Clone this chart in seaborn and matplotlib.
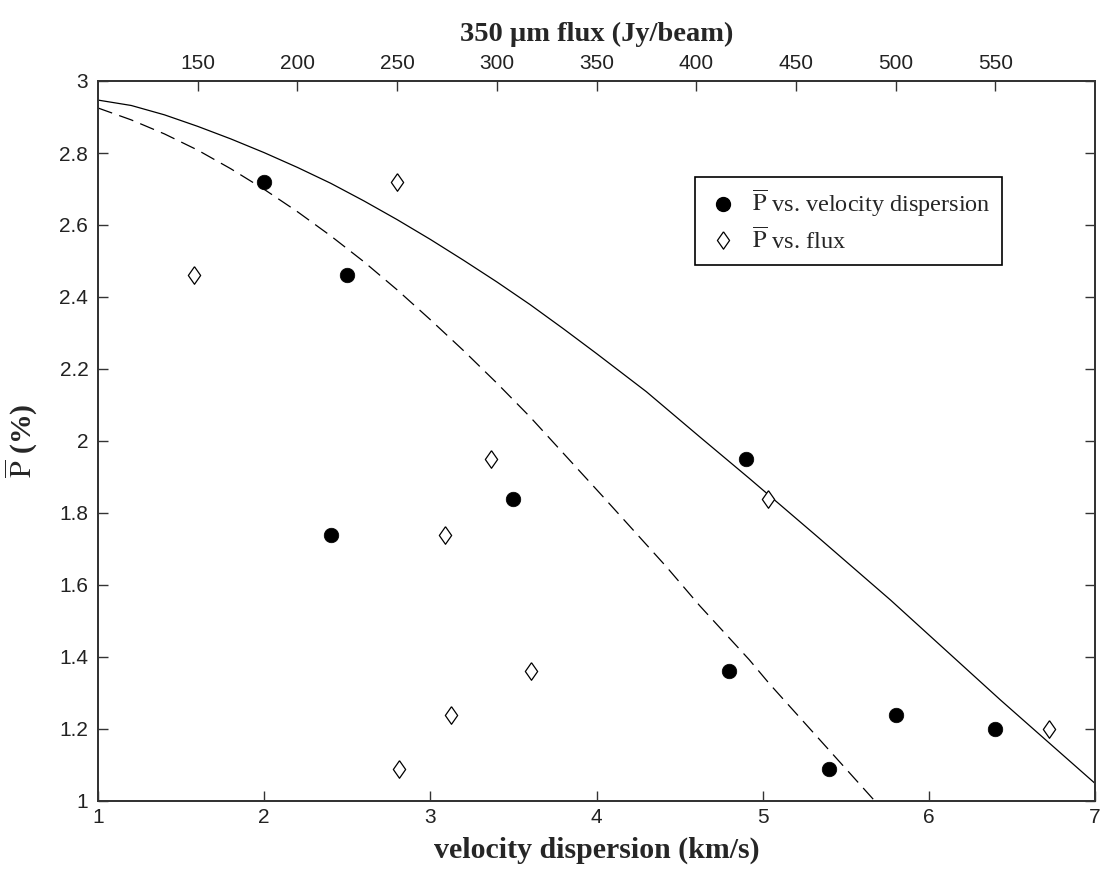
import numpy as np
import pandas as pd
import matplotlib
matplotlib.use("Agg")
import matplotlib.pyplot as plt
import seaborn as sns
from matplotlib.lines import Line2D

# ---- data ----
vel_disp = [2.0, 2.5, 2.4, 3.5, 4.9, 4.8, 5.4, 5.8, 6.4]
p_vel = [2.72, 2.46, 1.74, 1.84, 1.95, 1.36, 1.09, 1.24, 1.20]

flux = [250, 148, 274, 436, 297, 317, 251, 277, 577]
p_flux = [2.72, 2.46, 1.74, 1.84, 1.95, 1.36, 1.09, 1.24, 1.20]

solid_x = [1.0, 1.2, 1.4, 1.6, 1.8, 2.0, 2.2, 2.4, 2.6, 2.8, 3.0, 3.2, 3.4, 3.6, 3.8,
           4.0, 4.3, 4.62, 4.92, 5.33, 5.77, 6.43, 7.0]
solid_y = [2.947, 2.932, 2.906, 2.874, 2.839, 2.801, 2.760, 2.716, 2.667, 2.615, 2.560,
           2.502, 2.442, 2.379, 2.312, 2.243, 2.137, 2.012, 1.896, 1.734, 1.558, 1.281, 1.049]

dash_x = [1.0, 1.2, 1.4, 1.6, 1.8, 2.0, 2.2, 2.4, 2.6, 2.8, 3.0, 3.2, 3.4, 3.6,
          4.04, 4.42, 4.62, 4.92, 5.04, 5.675]
dash_y = [2.925, 2.892, 2.853, 2.808, 2.756, 2.699, 2.637, 2.570, 2.498, 2.420, 2.337,
          2.251, 2.161, 2.067, 1.845, 1.651, 1.543, 1.392, 1.326, 1.0]

x_ticks = [1, 2, 3, 4, 5, 6, 7]
y_ticks = [1, 1.2, 1.4, 1.6, 1.8, 2, 2.2, 2.4, 2.6, 2.8, 3]
y_tick_labels = ["1", "1.2", "1.4", "1.6", "1.8", "2", "2.2", "2.4", "2.6", "2.8", "3"]
flux_ticks = [150, 200, 250, 300, 350, 400, 450, 500, 550]

sns.set_theme(style="white")
plt.rcParams["font.family"] = ["Liberation Sans", "DejaVu Sans"]
plt.rcParams["mathtext.fontset"] = "stix"

fig = plt.figure(figsize=(11.02, 8.82), dpi=100)
ax = fig.add_axes([98 / 1102, 1 - 801 / 882, (1095 - 98) / 1102, (801 - 81) / 882])
ax2 = ax.twiny()

df_v = pd.DataFrame({"v": vel_disp, "p": p_vel})
df_f = pd.DataFrame({"f": flux, "p": p_flux})
df_s = pd.DataFrame({"x": solid_x, "y": solid_y})
df_d = pd.DataFrame({"x": dash_x, "y": dash_y})

diamond = [(0, 1), (0.7, 0), (0, -1), (-0.7, 0), (0, 1)]

sns.lineplot(data=df_s, x="x", y="y", ax=ax, color="black", lw=0.9, sort=False)
sns.lineplot(data=df_d, x="x", y="y", ax=ax, color="black", lw=0.9, sort=False,
             linestyle=(0, (12, 6)))
sns.scatterplot(data=df_v, x="v", y="p", ax=ax, marker="o", s=110, color="black",
                edgecolor="black", linewidth=0.5, zorder=5)
sns.scatterplot(data=df_f, x="f", y="p", ax=ax2, marker=diamond, s=160, facecolor="white",
                edgecolor="black", linewidth=0.9, zorder=5)

ax.set_xlim(1, 7)
ax.set_ylim(1, 3)
ax2.set_xlim(100, 600)
ax2.set_ylim(1, 3)

ax.set_xticks(x_ticks)
ax.set_xticklabels([str(t) for t in x_ticks])
ax.set_yticks(y_ticks)
ax.set_yticklabels(y_tick_labels)
ax2.set_xticks(flux_ticks)
ax2.set_xticklabels([str(t) for t in flux_ticks])

spine_col = "#333333"
for a in (ax, ax2):
    for sp in a.spines.values():
        sp.set_color(spine_col)
        sp.set_linewidth(1.3)
        sp.set_visible(True)

ax.tick_params(axis="x", direction="in", length=7, width=1, color=spine_col,
               labelsize=15, labelcolor="#222222", pad=5, bottom=True, top=False)
ax.tick_params(axis="y", direction="in", length=7, width=1, color=spine_col,
               labelsize=15, labelcolor="#222222", pad=7, left=True, right=True)
ax2.tick_params(axis="x", direction="in", length=7, width=1, color=spine_col,
                labelsize=15, labelcolor="#222222", pad=6, top=True, bottom=False)

lab_font = dict(family="Liberation Serif", size=21.5, weight="bold")
ax.set_xlabel("velocity dispersion (km/s)", fontdict=lab_font, labelpad=7)
ax2.set_xlabel("350 \u00b5m flux (Jy/beam)", fontdict=dict(lab_font, size=20.5), labelpad=9)
ax.set_ylabel(r"$\overline{\mathrm{P}}$ (%)", fontdict=lab_font, labelpad=14)

ax.grid(False)
ax2.grid(False)

handles = [
    Line2D([], [], marker="o", linestyle="none", markersize=10, color="black"),
    Line2D([], [], marker=diamond, linestyle="none", markersize=12.5, markerfacecolor="white",
           markeredgecolor="black", markeredgewidth=0.9),
]
labels = [r"$\overline{\mathrm{P}}$ vs. velocity dispersion", r"$\overline{\mathrm{P}}$ vs. flux"]
leg = ax2.legend(handles, labels, loc="upper left", bbox_to_anchor=(0.599, 0.866),
                 borderaxespad=0,
                 prop={"family": "Liberation Serif", "size": 17.5}, frameon=True,
                 fancybox=False, edgecolor="black", framealpha=1, borderpad=0.45,
                 handletextpad=0.5, labelspacing=0.35, handlelength=1.4)
leg.get_frame().set_linewidth(1.2)

fig.savefig("out.png", dpi=100, facecolor="white")
